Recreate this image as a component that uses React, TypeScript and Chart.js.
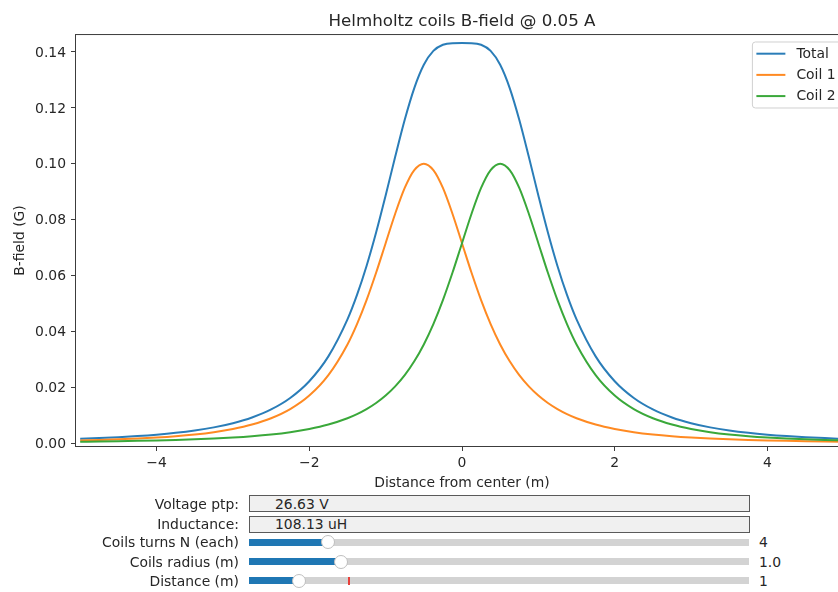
import React, { useEffect, useRef } from "react";
import { Chart, registerables } from "chart.js";

Chart.register(...registerables);

// ---------- data ----------
const xs = [
  -5, -4.75, -4.5, -4.25, -4, -3.75, -3.5, -3.25, -3, -2.75, -2.5, -2.25, -2, -1.75, -1.5,
  -1.375, -1.25, -1.125, -1, -0.875, -0.75, -0.625, -0.5, -0.375, -0.25, -0.125, 0,
  0.125, 0.25, 0.375, 0.5, 0.625, 0.75, 0.875, 1, 1.125, 1.25, 1.375,
  1.5, 1.75, 2, 2.25, 2.5, 2.75, 3, 3.25, 3.5, 3.75, 4, 4.25, 4.5, 4.75, 5,
];

const totalField = [
  0.0015932, 0.0018566, 0.002181, 0.0025849, 0.0030942, 0.0037449, 0.004589, 0.0057018,
  0.007196, 0.0092426, 0.0121066, 0.0162042, 0.0221906, 0.0310772, 0.0442993,
  0.053045, 0.063413, 0.075376, 0.088622, 0.102437, 0.115686, 0.127025, 0.135355,
  0.140325, 0.142508, 0.143069, 0.143108,
  0.143069, 0.142508, 0.140325, 0.135355, 0.127025, 0.115686, 0.102437, 0.088622,
  0.075376, 0.063413, 0.053045,
  0.0442993, 0.0310772, 0.0221906, 0.0162042, 0.0121066, 0.0092426, 0.007196, 0.0057018,
  0.004589, 0.0037449, 0.0030942, 0.0025849, 0.002181, 0.0018566, 0.0015932,
];

const coil1Field = [
  0.0010208, 0.0012015, 0.0014267, 0.0017106, 0.0020734, 0.0025434, 0.0031623, 0.0039912,
  0.0051226, 0.0066992, 0.0089443, 0.012213, 0.017068, 0.024378, 0.035355,
  0.042624, 0.0512, 0.06098, 0.071554, 0.082089, 0.091308, 0.097701, 0.1,
  0.097701, 0.091308, 0.082089, 0.071554, 0.06098, 0.0512, 0.042624, 0.035355,
  0.029324, 0.024378, 0.020348, 0.017068, 0.014396, 0.012213, 0.010421,
  0.0089443, 0.0066992, 0.0051226, 0.0039912, 0.0031623, 0.0025434, 0.0020734, 0.0017106,
  0.0014267, 0.0012015, 0.0010208, 0.00087432, 0.00075429, 0.0006551, 0.00057243,
];

const coil2Field = [
  0.00057243, 0.0006551, 0.00075429, 0.00087432, 0.0010208, 0.0012015, 0.0014267, 0.0017106,
  0.0020734, 0.0025434, 0.0031623, 0.0039912, 0.0051226, 0.0066992, 0.0089443,
  0.010421, 0.012213, 0.014396, 0.017068, 0.020348, 0.024378, 0.029324, 0.035355,
  0.042624, 0.0512, 0.06098, 0.071554, 0.082089, 0.091308, 0.097701, 0.1,
  0.097701, 0.091308, 0.082089, 0.071554, 0.06098, 0.0512, 0.042624,
  0.035355, 0.024378, 0.017068, 0.012213, 0.0089443, 0.0066992, 0.0051226, 0.0039912,
  0.0031623, 0.0025434, 0.0020734, 0.0017106, 0.0014267, 0.0012015, 0.0010208,
];

const seriesNames = ["Total", "Coil 1", "Coil 2"];
const seriesColors = ["#2a7db8", "#ff8a22", "#3aa83a"];

const xTicks = [-4, -2, 0, 2, 4];
const yTicks = [0, 0.02, 0.04, 0.06, 0.08, 0.1, 0.12, 0.14];

const chartTitle = "Helmholtz coils B-field @ 0.05 A";
const xTitle = "Distance from center (m)";
const yTitle = "B-field (G)";

const textBoxLabels = ["Voltage ptp:", "Inductance:"];
const textBoxValues = ["26.63 V", "108.13 uH"];

const sliderLabels = ["Coils turns N (each)", "Coils radius (m)", "Distance (m)"];
const sliderMin = [1, 0.1, 0];
const sliderMax = [20, 5, 10];
const sliderValues = [4, 1.0, 1];
const sliderInit = [4, 1.0, 2];
const sliderValueText = ["4", "1.0", "1"];

// ---------- styling ----------
const FONT = '"DejaVu Sans", sans-serif';
const FS = 13.9;
const CANVAS_W = 860;
const CANVAS_H = 500;
const TEXT = "#262626";
const SPINE = "#3c3c3c";

const framePlugin = {
  id: "mplFrame",
  afterDatasetsDraw(chart: any) {
    const { ctx, chartArea } = chart;
    const { left, top, right, bottom } = chartArea;
    ctx.save();
    ctx.strokeStyle = SPINE;
    ctx.lineWidth = 1;
    ctx.strokeRect(left - 0.5, top - 0.5, right - left + 1, bottom - top + 1);

    // legend (upper right)
    ctx.font = `${FS}px ${FONT}`;
    const tw = Math.max(...seriesNames.map((n) => ctx.measureText(n).width));
    const boxRight = right - 0.5 * FS;
    const boxTop = top + 0.5 * FS;
    const boxW = 4 + 29 + 11 + tw + 5.5;
    const boxH = 66;
    const boxLeft = boxRight - boxW;
    const r = 3;
    ctx.beginPath();
    ctx.moveTo(boxLeft + r, boxTop);
    ctx.lineTo(boxRight - r, boxTop);
    ctx.quadraticCurveTo(boxRight, boxTop, boxRight, boxTop + r);
    ctx.lineTo(boxRight, boxTop + boxH - r);
    ctx.quadraticCurveTo(boxRight, boxTop + boxH, boxRight - r, boxTop + boxH);
    ctx.lineTo(boxLeft + r, boxTop + boxH);
    ctx.quadraticCurveTo(boxLeft, boxTop + boxH, boxLeft, boxTop + boxH - r);
    ctx.lineTo(boxLeft, boxTop + r);
    ctx.quadraticCurveTo(boxLeft, boxTop, boxLeft + r, boxTop);
    ctx.closePath();
    ctx.fillStyle = "rgba(255,255,255,0.8)";
    ctx.fill();
    ctx.strokeStyle = "#d0d0d0";
    ctx.stroke();

    seriesNames.forEach((name, i) => {
      const cy = boxTop + 11.7 + i * 21.2;
      ctx.beginPath();
      ctx.strokeStyle = seriesColors[i];
      ctx.lineWidth = 2;
      ctx.moveTo(boxLeft + 4, cy);
      ctx.lineTo(boxLeft + 33, cy);
      ctx.stroke();
      ctx.fillStyle = TEXT;
      ctx.textAlign = "left";
      ctx.textBaseline = "middle";
      ctx.fillText(name, boxLeft + 44, cy + 0.5);
    });
    ctx.restore();
  },
};

function ChartCanvas() {
  const ref = useRef<HTMLCanvasElement | null>(null);
  useEffect(() => {
    if (!ref.current) return;
    const series = [totalField, coil1Field, coil2Field];
    const chart = new Chart(ref.current, {
      type: "line",
      data: {
        datasets: series.map((vals, i) => ({
          label: seriesNames[i],
          data: xs.map((x, j) => ({ x, y: vals[j] })),
          borderColor: seriesColors[i],
          backgroundColor: seriesColors[i],
          borderWidth: 2,
          pointRadius: 0,
          fill: false,
          cubicInterpolationMode: "monotone",
          order: 3 - i,
        })),
      },
      options: {
        responsive: false,
        animation: false,
        devicePixelRatio: 1,
        events: [],
        layout: { padding: { left: 0, right: CANVAS_W - 848, top: 0, bottom: 0 } },
        plugins: {
          legend: { display: false },
          tooltip: { enabled: false },
          title: {
            display: true,
            text: chartTitle,
            fullSize: false,
            color: TEXT,
            font: { family: FONT, size: 16.7, weight: "normal" },
            padding: { top: 12, bottom: 3 },
          },
        },
        scales: {
          x: {
            type: "linear",
            min: -5.055,
            max: 5.055,
            afterFit: (s: any) => {
              s.height = CANVAS_H - 446;
            },
            afterBuildTicks: (s: any) => {
              s.ticks = xTicks.map((v) => ({ value: v }));
            },
            ticks: {
              color: TEXT,
              font: { family: FONT, size: FS },
              padding: 4.5,
              maxRotation: 0,
              callback: (v: any) => (v < 0 ? "\u2212" + Math.abs(v) : String(v)),
            },
            grid: {
              display: true,
              drawOnChartArea: false,
              drawTicks: true,
              tickLength: 5,
              tickColor: SPINE,
              tickWidth: 1,
            },
            border: { display: false },
            title: {
              display: true,
              text: xTitle,
              color: TEXT,
              font: { family: FONT, size: FS },
              padding: { top: 0, bottom: 8.2 },
            },
          },
          y: {
            type: "linear",
            min: -0.00096,
            max: 0.14598,
            afterFit: (s: any) => {
              s.width = 76;
            },
            afterBuildTicks: (s: any) => {
              s.ticks = yTicks.map((v) => ({ value: v }));
            },
            ticks: {
              color: TEXT,
              font: { family: FONT, size: FS },
              padding: 5,
              labelOffset: 1.2,
              callback: (v: any) => Number(v).toFixed(2),
            },
            grid: {
              display: true,
              drawOnChartArea: false,
              drawTicks: true,
              tickLength: 5,
              tickColor: SPINE,
              tickWidth: 1,
            },
            border: { display: false },
            title: {
              display: true,
              text: yTitle,
              color: TEXT,
              font: { family: FONT, size: FS },
              padding: { top: 12.5, bottom: 0 },
            },
          },
        },
      } as any,
      plugins: [framePlugin],
    });
    return () => chart.destroy();
  }, []);
  return (
    <canvas
      ref={ref}
      width={CANVAS_W}
      height={CANVAS_H}
      style={{ position: "absolute", left: 0, top: 0, width: CANVAS_W, height: CANVAS_H, display: "block" }}
    />
  );
}

const WIDGET_LEFT = 249;
const WIDGET_W = 500;
const LABEL_RIGHT = 239;
const textBoxCenters = [503.5, 524.3];
const sliderCenters = [542.3, 561.7, 580.9];

export default function App() {
  const textStyle: React.CSSProperties = {
    position: "absolute",
    fontFamily: FONT,
    fontSize: FS,
    color: TEXT,
    whiteSpace: "nowrap",
    height: 18,
    lineHeight: "18px",
  };
  return (
    <div
      style={{
        position: "absolute",
        left: 0,
        top: 0,
        width: 838,
        height: 592,
        overflow: "hidden",
        background: "#fff",
      }}
    >
      <ChartCanvas />
      {textBoxLabels.map((lab, i) => {
        const cy = textBoxCenters[i];
        return (
          <React.Fragment key={"tb" + i}>
            <div style={{ ...textStyle, right: 838 - LABEL_RIGHT, top: cy - 9, textAlign: "right" }}>{lab}</div>
            <div
              style={{
                position: "absolute",
                left: WIDGET_LEFT,
                top: cy - 8.5,
                width: WIDGET_W + 1,
                height: 17,
                boxSizing: "border-box",
                border: "1.2px solid #5a5a5a",
                background: "#f0f0f0",
              }}
            />
            <div style={{ ...textStyle, left: WIDGET_LEFT + 26, top: cy - 9 }}>{textBoxValues[i]}</div>
          </React.Fragment>
        );
      })}
      {sliderLabels.map((lab, i) => {
        const cy = sliderCenters[i];
        const frac = (sliderValues[i] - sliderMin[i]) / (sliderMax[i] - sliderMin[i]);
        const initFrac = (sliderInit[i] - sliderMin[i]) / (sliderMax[i] - sliderMin[i]);
        const knobX = WIDGET_LEFT + frac * WIDGET_W;
        const initX = WIDGET_LEFT + initFrac * WIDGET_W;
        return (
          <React.Fragment key={"sl" + i}>
            <div style={{ ...textStyle, right: 838 - LABEL_RIGHT, top: cy - 9, textAlign: "right" }}>{lab}</div>
            <div
              style={{
                position: "absolute",
                left: WIDGET_LEFT,
                top: cy - 3.5,
                width: WIDGET_W,
                height: 7,
                background: "#d3d3d3",
              }}
            />
            <div
              style={{
                position: "absolute",
                left: WIDGET_LEFT,
                top: cy - 3.5,
                width: knobX - WIDGET_LEFT,
                height: 7,
                background: "#1f77b4",
              }}
            />
            <div
              style={{
                position: "absolute",
                left: initX - 1,
                top: cy - 4,
                width: 2,
                height: 8,
                background: "#e8403a",
              }}
            />
            <div
              style={{
                position: "absolute",
                left: knobX - 7,
                top: cy - 7,
                width: 14,
                height: 14,
                boxSizing: "border-box",
                borderRadius: "50%",
                border: "1px solid #bfbfbf",
                background: "#fff",
              }}
            />
            <div style={{ ...textStyle, left: WIDGET_LEFT + WIDGET_W + 10, top: cy - 9 }}>{sliderValueText[i]}</div>
          </React.Fragment>
        );
      })}
    </div>
  );
}
